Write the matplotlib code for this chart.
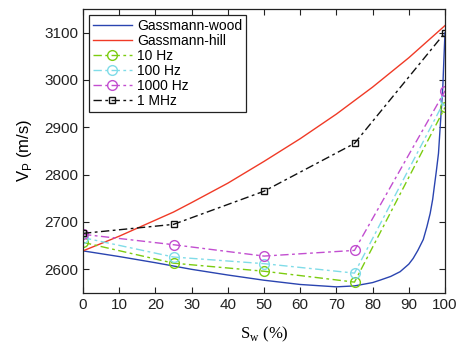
import matplotlib
matplotlib.use("Agg")
import matplotlib.pyplot as plt

plt.rcParams['font.family'] = ['Liberation Sans', 'DejaVu Sans']
plt.rcParams['mathtext.fontset'] = 'custom'
plt.rcParams['mathtext.rm'] = 'Liberation Sans'

# Gassmann-wood curve
sw_wood = [0, 10, 20, 25, 30, 40, 50, 60, 70, 75, 80, 82, 85, 87.6, 90, 91.2,
           92.5, 94, 95, 95.9, 96.6, 97, 97.6, 98.2, 98.8, 99.4, 99.7, 100]
vp_wood = [2639, 2627, 2614, 2607, 2600, 2588, 2577, 2568, 2563, 2565, 2572,
           2577, 2585, 2595, 2611, 2623, 2640, 2663, 2690, 2718, 2748, 2772,
           2807, 2845, 2916, 2986, 3045, 3100]

# Gassmann-hill curve
sw_hill = [0, 10, 20, 25, 30, 40, 50, 60, 70, 80, 90, 100]
vp_hill = [2639, 2670, 2704, 2721, 2741, 2782, 2828, 2876, 2928, 2985, 3047,
           3115]

# measured / modelled points
sw_pts = [0, 25, 50, 75, 100]
vp_10hz = [2657, 2613, 2596, 2573, 2942]
vp_100hz = [2667, 2626, 2612, 2592, 2958]
vp_1khz = [2674, 2652, 2628, 2640, 2977]
vp_1mhz = [2676, 2695, 2765, 2866, 3100]

dd = (6, 2.5, 2, 2.5)

fig = plt.figure(figsize=(4.62, 3.47), dpi=100)
ax = fig.add_axes([83/462, 1-293/347, (445-83)/462, (293-9)/347])

ax.plot(sw_wood, vp_wood, color='#2a44b0', lw=1.0, label='Gassmann-wood')
ax.plot(sw_hill, vp_hill, color='#f03a26', lw=1.0, label='Gassmann-hill')
ax.plot(sw_pts, vp_10hz, '-.', dashes=dd, color='#7ccc10', lw=1.0, marker='o',
        ms=7, mfc='none', label='10 Hz')
ax.plot(sw_pts, vp_100hz, '-.', dashes=dd, color='#80dce8', lw=1.0, marker='o',
        ms=7, mfc='none', label='100 Hz')
ax.plot(sw_pts, vp_1khz, '-.', dashes=dd, color='#c24ed0', lw=1.0, marker='o',
        ms=7, mfc='none', label='1000 Hz')
ax.plot(sw_pts, vp_1mhz, '-.', dashes=dd, color='#111111', lw=1.0, marker='s',
        ms=5, mfc='none', label='1 MHz')

ax.set_xlim(0, 100)
ax.set_ylim(2550, 3150)
ax.set_xticks(range(0, 101, 10))
ax.set_yticks(range(2600, 3101, 100))
ax.tick_params(direction='in', top=True, right=True, labelsize=11,
               length=4, width=0.8, colors='#222222')
for s in ax.spines.values():
    s.set_linewidth(0.9)
    s.set_color('#222222')

ax.set_xlabel(r'S$_{\mathregular{w}}$ (%)', family='Liberation Serif',
              fontsize=12, labelpad=9)
ax.set_ylabel(r'V$_{\mathregular{P}}$ (m/s)', fontsize=12, labelpad=7)

leg = ax.legend(loc='upper left', fontsize=10, handlelength=2.8,
                borderpad=0.3, labelspacing=0.07, handletextpad=0.4,
                fancybox=False, edgecolor='#222222', framealpha=1,
                borderaxespad=0.4)
leg.get_frame().set_linewidth(0.9)

fig.savefig('out.png', dpi=100)
